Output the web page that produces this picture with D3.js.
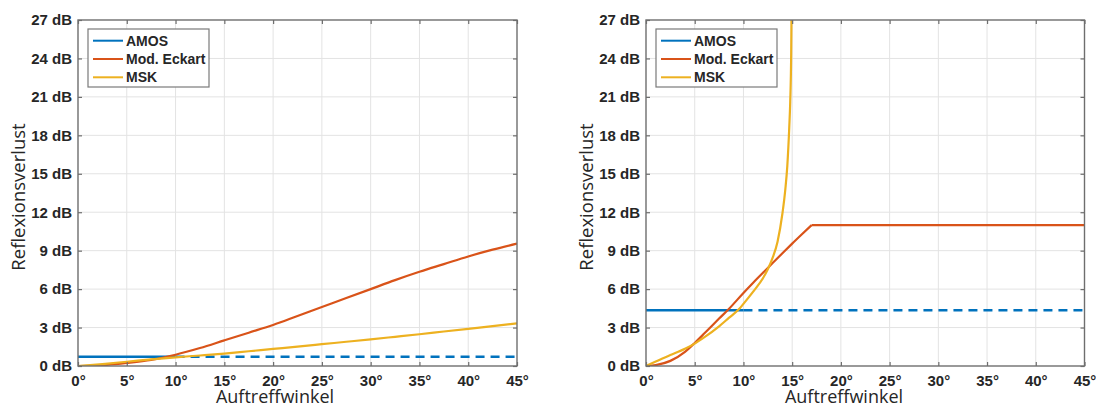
<!DOCTYPE html>
<html>
<head>
<meta charset="utf-8">
<script src="https://cdn.jsdelivr.net/npm/d3@7"></script>
<style>
  html, body { margin: 0; padding: 0; background: #fff; }
  svg { display: block; }
</style>
</head>
<body>
<svg id="chart" width="1096" height="407"></svg>
<script>
// ---- data -------------------------------------------------------------
const xTicks = [0, 5, 10, 15, 20, 25, 30, 35, 40, 45];
const yTicks = [0, 3, 6, 9, 12, 15, 18, 21, 24, 27];
const seriesNames = ["AMOS", "Mod. Eckart", "MSK"];

// left panel
const leftAngles = [0, 2.5, 5, 7.5, 10, 12.5, 15, 17.5, 20, 22.5, 25, 27.5, 30, 32.5, 35, 37.5, 40, 42.5, 45];
const leftEckart = [0, 0.06, 0.24, 0.48, 0.88, 1.4, 2.0, 2.6, 3.2, 3.9, 4.6, 5.3, 6.0, 6.7, 7.35, 7.95, 8.55, 9.08, 9.55];
const leftMSK    = [0, 0.15, 0.33, 0.52, 0.68, 0.82, 0.97, 1.15, 1.33, 1.51, 1.7, 1.89, 2.08, 2.28, 2.48, 2.69, 2.9, 3.11, 3.33];
const leftAmos = 0.72;      // dB
const leftAmosLimit = 10;   // solid up to this angle, dashed beyond

// right panel
const rightEckartAngles = [0, 1, 2.5, 4, 5, 6, 7.5, 8.5, 10, 11, 12.5, 14, 15, 16, 17];
const rightEckart       = [0, 0.07, 0.4, 1.1, 1.8, 2.55, 3.7, 4.45, 5.7, 6.5, 7.65, 8.8, 9.55, 10.28, 11.0];
const rightEckartPlateau = [[17, 11.0], [45, 11.0]];
const rightMSKAngles = [0, 1, 2.5, 4, 5, 6, 7.5, 8.5, 9.5, 10, 11, 12, 12.5, 13, 13.5, 14, 14.3, 14.5, 14.7, 14.8, 14.9, 14.95];
const rightMSK       = [0, 0.35, 0.85, 1.35, 1.75, 2.25, 3.1, 3.75, 4.4, 4.85, 5.8, 6.85, 7.55, 8.45, 9.7, 11.9, 13.8, 15.6, 18.6, 20.6, 24.4, 29.0];
const rightAmos = 4.35;
const rightAmosLimit = 10;

// ---- styling ----------------------------------------------------------
const colors = { amos: "#0072BD", eckart: "#D95319", msk: "#EDB120" };
const tickFont = "'Liberation Sans', Arial, sans-serif";
const labelFont = "'Open Sans', 'Noto Sans', sans-serif";

const svg = d3.select("#chart");

const panels = [
  { left: 78, right: 517, top: 20, bottom: 366, titleX: 275, yLabelX: 25,
    eckart: [leftAngles.map((a, i) => [a, leftEckart[i]])],
    msk: leftAngles.map((a, i) => [a, leftMSK[i]]),
    amos: leftAmos, amosLimit: leftAmosLimit },
  { left: 646, right: 1084.5, top: 20, bottom: 366, titleX: 844, yLabelX: 593,
    eckart: [rightEckartAngles.map((a, i) => [a, rightEckart[i]]), rightEckartPlateau],
    msk: rightMSKAngles.map((a, i) => [a, rightMSK[i]]),
    amos: rightAmos, amosLimit: rightAmosLimit }
];

panels.forEach((p, idx) => {
  const x = d3.scaleLinear().domain([0, 45]).range([p.left, p.right]);
  const y = d3.scaleLinear().domain([0, 27]).range([p.bottom, p.top]);
  const g = svg.append("g");

  const clipId = "clip" + idx;
  g.append("clipPath").attr("id", clipId)
    .append("rect")
    .attr("x", p.left).attr("y", p.top)
    .attr("width", p.right - p.left).attr("height", p.bottom - p.top);

  // grid
  g.append("g").selectAll("line").data(xTicks.slice(1, -1)).join("line")
    .attr("x1", d => x(d)).attr("x2", d => x(d))
    .attr("y1", p.top).attr("y2", p.bottom)
    .attr("stroke", "#e3e3e3").attr("stroke-width", 1);
  g.append("g").selectAll("line").data(yTicks.slice(1, -1)).join("line")
    .attr("x1", p.left).attr("x2", p.right)
    .attr("y1", d => y(d)).attr("y2", d => y(d))
    .attr("stroke", "#e3e3e3").attr("stroke-width", 1);

  // curves
  const plot = g.append("g").attr("clip-path", `url(#${clipId})`);
  const smooth = d3.line().x(d => x(d[0])).y(d => y(d[1])).curve(d3.curveMonotoneX);
  const straight = d3.line().x(d => x(d[0])).y(d => y(d[1]));

  // AMOS: solid up to the limit, dashed afterwards
  plot.append("path")
    .attr("d", straight([[0, p.amos], [p.amosLimit, p.amos]]))
    .attr("fill", "none").attr("stroke", colors.amos).attr("stroke-width", 2.6);
  plot.append("path")
    .attr("d", straight([[p.amosLimit, p.amos], [45, p.amos]]))
    .attr("fill", "none").attr("stroke", colors.amos).attr("stroke-width", 2.6)
    .attr("stroke-dasharray", "9,6");

  p.eckart.forEach(seg => {
    plot.append("path").attr("d", (seg.length > 2 ? smooth : straight)(seg))
      .attr("fill", "none").attr("stroke", colors.eckart).attr("stroke-width", 2.2);
  });
  plot.append("path").attr("d", smooth(p.msk))
    .attr("fill", "none").attr("stroke", colors.msk).attr("stroke-width", 2.2);

  // axes (ticks pointing inward)
  const axisColor = "#6e6e6e";
  const bottom = g.append("g").attr("transform", `translate(0,${p.bottom})`)
    .call(d3.axisBottom(x).tickValues(xTicks).tickFormat(d => d + "°")
      .tickSizeInner(-4).tickSizeOuter(0).tickPadding(9));
  const leftAx = g.append("g").attr("transform", `translate(${p.left},0)`)
    .call(d3.axisLeft(y).tickValues(yTicks).tickFormat(d => d + " dB")
      .tickSizeInner(-4).tickSizeOuter(0).tickPadding(6));
  const topAx = g.append("g").attr("transform", `translate(0,${p.top})`)
    .call(d3.axisTop(x).tickValues(xTicks).tickFormat("").tickSizeInner(-4).tickSizeOuter(0));
  const rightAx = g.append("g").attr("transform", `translate(${p.right},0)`)
    .call(d3.axisRight(y).tickValues(yTicks).tickFormat("").tickSizeInner(-4).tickSizeOuter(0));

  [bottom, leftAx, topAx, rightAx].forEach(a => {
    a.select(".domain").remove();
    a.selectAll(".tick line").attr("stroke", axisColor).attr("stroke-width", 1.2);
    a.selectAll("text").attr("font-family", tickFont).attr("font-size", 15)
      .attr("font-weight", "bold").attr("fill", "#262626");
  });

  // box
  g.append("rect")
    .attr("x", p.left).attr("y", p.top)
    .attr("width", p.right - p.left).attr("height", p.bottom - p.top)
    .attr("fill", "none").attr("stroke", axisColor).attr("stroke-width", 1.4);

  // axis titles
  g.append("text").attr("x", p.titleX).attr("y", 403)
    .attr("text-anchor", "middle").attr("font-family", labelFont)
    .attr("font-size", 18).attr("fill", "#262626").text("Auftreffwinkel");
  g.append("text")
    .attr("transform", `translate(${p.yLabelX},197) rotate(-90)`)
    .attr("text-anchor", "middle").attr("font-family", labelFont)
    .attr("font-size", 18.5).attr("fill", "#262626").text("Reflexionsverlust");

  // legend
  const lg = g.append("g").attr("transform", `translate(${p.left + 10},29)`);
  lg.append("rect").attr("width", 121).attr("height", 58)
    .attr("fill", "#fff").attr("stroke", "#7a7a7a").attr("stroke-width", 1.2);
  const lc = [colors.amos, colors.eckart, colors.msk];
  seriesNames.forEach((name, i) => {
    const cy = 11.7 + i * 18.3;
    lg.append("line").attr("x1", 5).attr("x2", 35).attr("y1", cy).attr("y2", cy)
      .attr("stroke", lc[i]).attr("stroke-width", 2);
    lg.append("text").attr("x", 38).attr("y", cy).attr("dy", "0.36em")
      .attr("font-family", tickFont).attr("font-size", 14).attr("font-weight", "bold")
      .attr("fill", "#262626").text(name);
  });
});
</script>
</body>
</html>
